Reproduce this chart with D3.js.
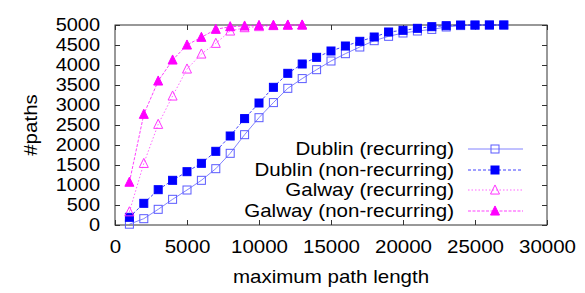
<!DOCTYPE html>
<html>
<head>
<meta charset="utf-8">
<script src="https://cdn.jsdelivr.net/npm/d3@7"></script>
<style>
  body { margin: 0; background: #fff; }
  text { font-family: "Liberation Sans", Arial, sans-serif; fill: #000; }
</style>
</head>
<body>
<div id="chart"></div>
<script>
// path length limits (x) for each city
const dublinLengths = d3.range(1, 28).map(k => k * 1000);
const galwayLengths = d3.range(1, 14).map(k => k * 1000);

const dublinRecurring = [20, 158, 392, 642, 875, 1117, 1408, 1792, 2258, 2683, 3060, 3417, 3660,
  3883, 4100, 4283, 4450, 4608, 4717, 4800, 4850, 4890, 4950, 4985, 4995, 5000, 5000];
const dublinNonRecurring = [192, 542, 883, 1117, 1333, 1542, 1842, 2225, 2660, 3050, 3442, 3792, 4025,
  4192, 4350, 4475, 4592, 4700, 4825, 4867, 4917, 4958, 4983, 5000, 5000, 5000, 5000];
const galwayRecurring = [330, 1540, 2517, 3225, 3900, 4275, 4542, 4850, 4933, 4960, 4985, 4995, 5000];
const galwayNonRecurring = [1070, 2767, 3600, 4125, 4500, 4692, 4892, 4958, 4975, 4990, 4995, 5000, 5000];

const xTicks = [0, 5000, 10000, 15000, 20000, 25000, 30000];
const yTicks = [0, 500, 1000, 1500, 2000, 2500, 3000, 3500, 4000, 4500, 5000];

const series = [
  { name: "Dublin (recurring)", xs: dublinLengths, ys: dublinRecurring, color: "#5a5aff", dash: null, marker: "square", filled: false },
  { name: "Dublin (non-recurring)", xs: dublinLengths, ys: dublinNonRecurring, color: "#0000ff", dash: "3,2", marker: "square", filled: true },
  { name: "Galway (recurring)", xs: galwayLengths, ys: galwayRecurring, color: "#ff33ff", dash: "1.5,2", marker: "triangle", filled: false },
  { name: "Galway (non-recurring)", xs: galwayLengths, ys: galwayNonRecurring, color: "#ff00ff", dash: "3,1.5", marker: "triangle", filled: true }
];

const W = 585, H = 293;
const margin = { top: 25, right: 38, bottom: 68, left: 115 };
// the original text is a little wider than it is tall
const fs = "18px", sx = 1.14;

const svg = d3.select("#chart")
  .append("svg")
  .attr("width", W)
  .attr("height", H);

const x = d3.scaleLinear().domain([0, 30000]).range([margin.left, W - margin.right]);
const y = d3.scaleLinear().domain([0, 5000]).range([H - margin.bottom, margin.top]);

// put text at (px,py) and stretch it horizontally
function stretch(sel) {
  sel.each(function () {
    const t = d3.select(this);
    const px = +t.attr("x") || 0, py = +t.attr("y") || 0;
    const pre = t.attr("transform") || "";
    t.attr("x", 0).attr("y", 0)
      .attr("transform", `${pre} translate(${px},${py}) scale(${sx},1)`);
  });
}

// inner ticks on all four sides
const tickLen = 5;
const xAxis = svg.append("g")
  .attr("transform", `translate(0,${y(0)})`)
  .call(d3.axisBottom(x).tickValues(xTicks).tickSize(-tickLen).tickPadding(15).tickFormat(d3.format("d")))
  .call(g => g.select(".domain").remove());
svg.append("g")
  .attr("transform", `translate(0,${y(5000)})`)
  .call(d3.axisTop(x).tickValues(xTicks).tickSize(-tickLen).tickFormat(""))
  .call(g => g.select(".domain").remove());
const yAxis = svg.append("g")
  .attr("transform", `translate(${x(0)},0)`)
  .call(d3.axisLeft(y).tickValues(yTicks).tickSize(-tickLen).tickPadding(15).tickFormat(d3.format("d")))
  .call(g => g.select(".domain").remove());
svg.append("g")
  .attr("transform", `translate(${x(30000)},0)`)
  .call(d3.axisRight(y).tickValues(yTicks).tickSize(-tickLen).tickFormat(""))
  .call(g => g.select(".domain").remove());

svg.selectAll(".tick line").attr("stroke", "#333");
svg.selectAll(".tick text")
  .style("font-family", "'Liberation Sans', Arial, sans-serif")
  .style("font-size", fs)
  .attr("fill", "#000");
xAxis.selectAll(".tick text").call(stretch);
yAxis.selectAll(".tick text").style("font-size", "17.5px").call(stretch);

svg.append("rect")
  .attr("x", x(0)).attr("y", y(5000))
  .attr("width", x(30000) - x(0)).attr("height", y(0) - y(5000))
  .attr("fill", "none").attr("stroke", "#333").attr("stroke-width", 1);

// axis titles
svg.append("text")
  .attr("x", (x(0) + x(30000)) / 2)
  .attr("y", 283)
  .attr("text-anchor", "middle")
  .style("font-size", fs)
  .text("maximum path length")
  .call(stretch);

svg.append("text")
  .attr("transform", `translate(37,${(y(0) + y(5000)) / 2}) rotate(-90) scale(${sx},1)`)
  .attr("text-anchor", "middle")
  .style("font-size", fs)
  .text("#paths");

const sq = 8, tri = 9;
function drawMarker(g, type, filled, color, cx, cy) {
  if (type === "square") {
    g.append("rect")
      .attr("x", cx - sq / 2).attr("y", cy - sq / 2)
      .attr("width", sq).attr("height", sq)
      .attr("fill", filled ? color : "none")
      .attr("stroke", color)
      .attr("stroke-width", 1);
  } else {
    const h = tri * 0.9;
    g.append("path")
      .attr("d", `M${cx},${cy - h / 2 - 1}L${cx + tri / 2},${cy + h / 2}L${cx - tri / 2},${cy + h / 2}Z`)
      .attr("fill", filled ? color : "none")
      .attr("stroke", color)
      .attr("stroke-width", 1);
  }
}

const line = d3.line().x(d => x(d[0])).y(d => y(d[1]));

series.forEach(s => {
  const pts = s.xs.map((v, i) => [v, s.ys[i]]);
  const g = svg.append("g");
  g.append("path")
    .attr("d", line(pts))
    .attr("fill", "none")
    .attr("stroke", s.color)
    .attr("stroke-opacity", 0.75)
    .attr("stroke-width", 1)
    .attr("stroke-dasharray", s.dash);
  pts.forEach(p => drawMarker(g, s.marker, s.filled, s.color, x(p[0]), y(p[1])));
});

// legend
const legY = [149, 170, 190, 211];
series.forEach((s, i) => {
  const g = svg.append("g");
  g.append("text")
    .attr("x", 454)
    .attr("y", legY[i])
    .attr("dy", "0.35em")
    .attr("text-anchor", "end")
    .style("font-size", fs)
    .text(s.name)
    .call(stretch);
  g.append("line")
    .attr("x1", 468).attr("x2", 523)
    .attr("y1", legY[i]).attr("y2", legY[i])
    .attr("stroke", s.color)
    .attr("stroke-opacity", 0.75)
    .attr("stroke-dasharray", s.dash);
  drawMarker(g, s.marker, s.filled, s.color, 495, legY[i]);
});
</script>
</body>
</html>
